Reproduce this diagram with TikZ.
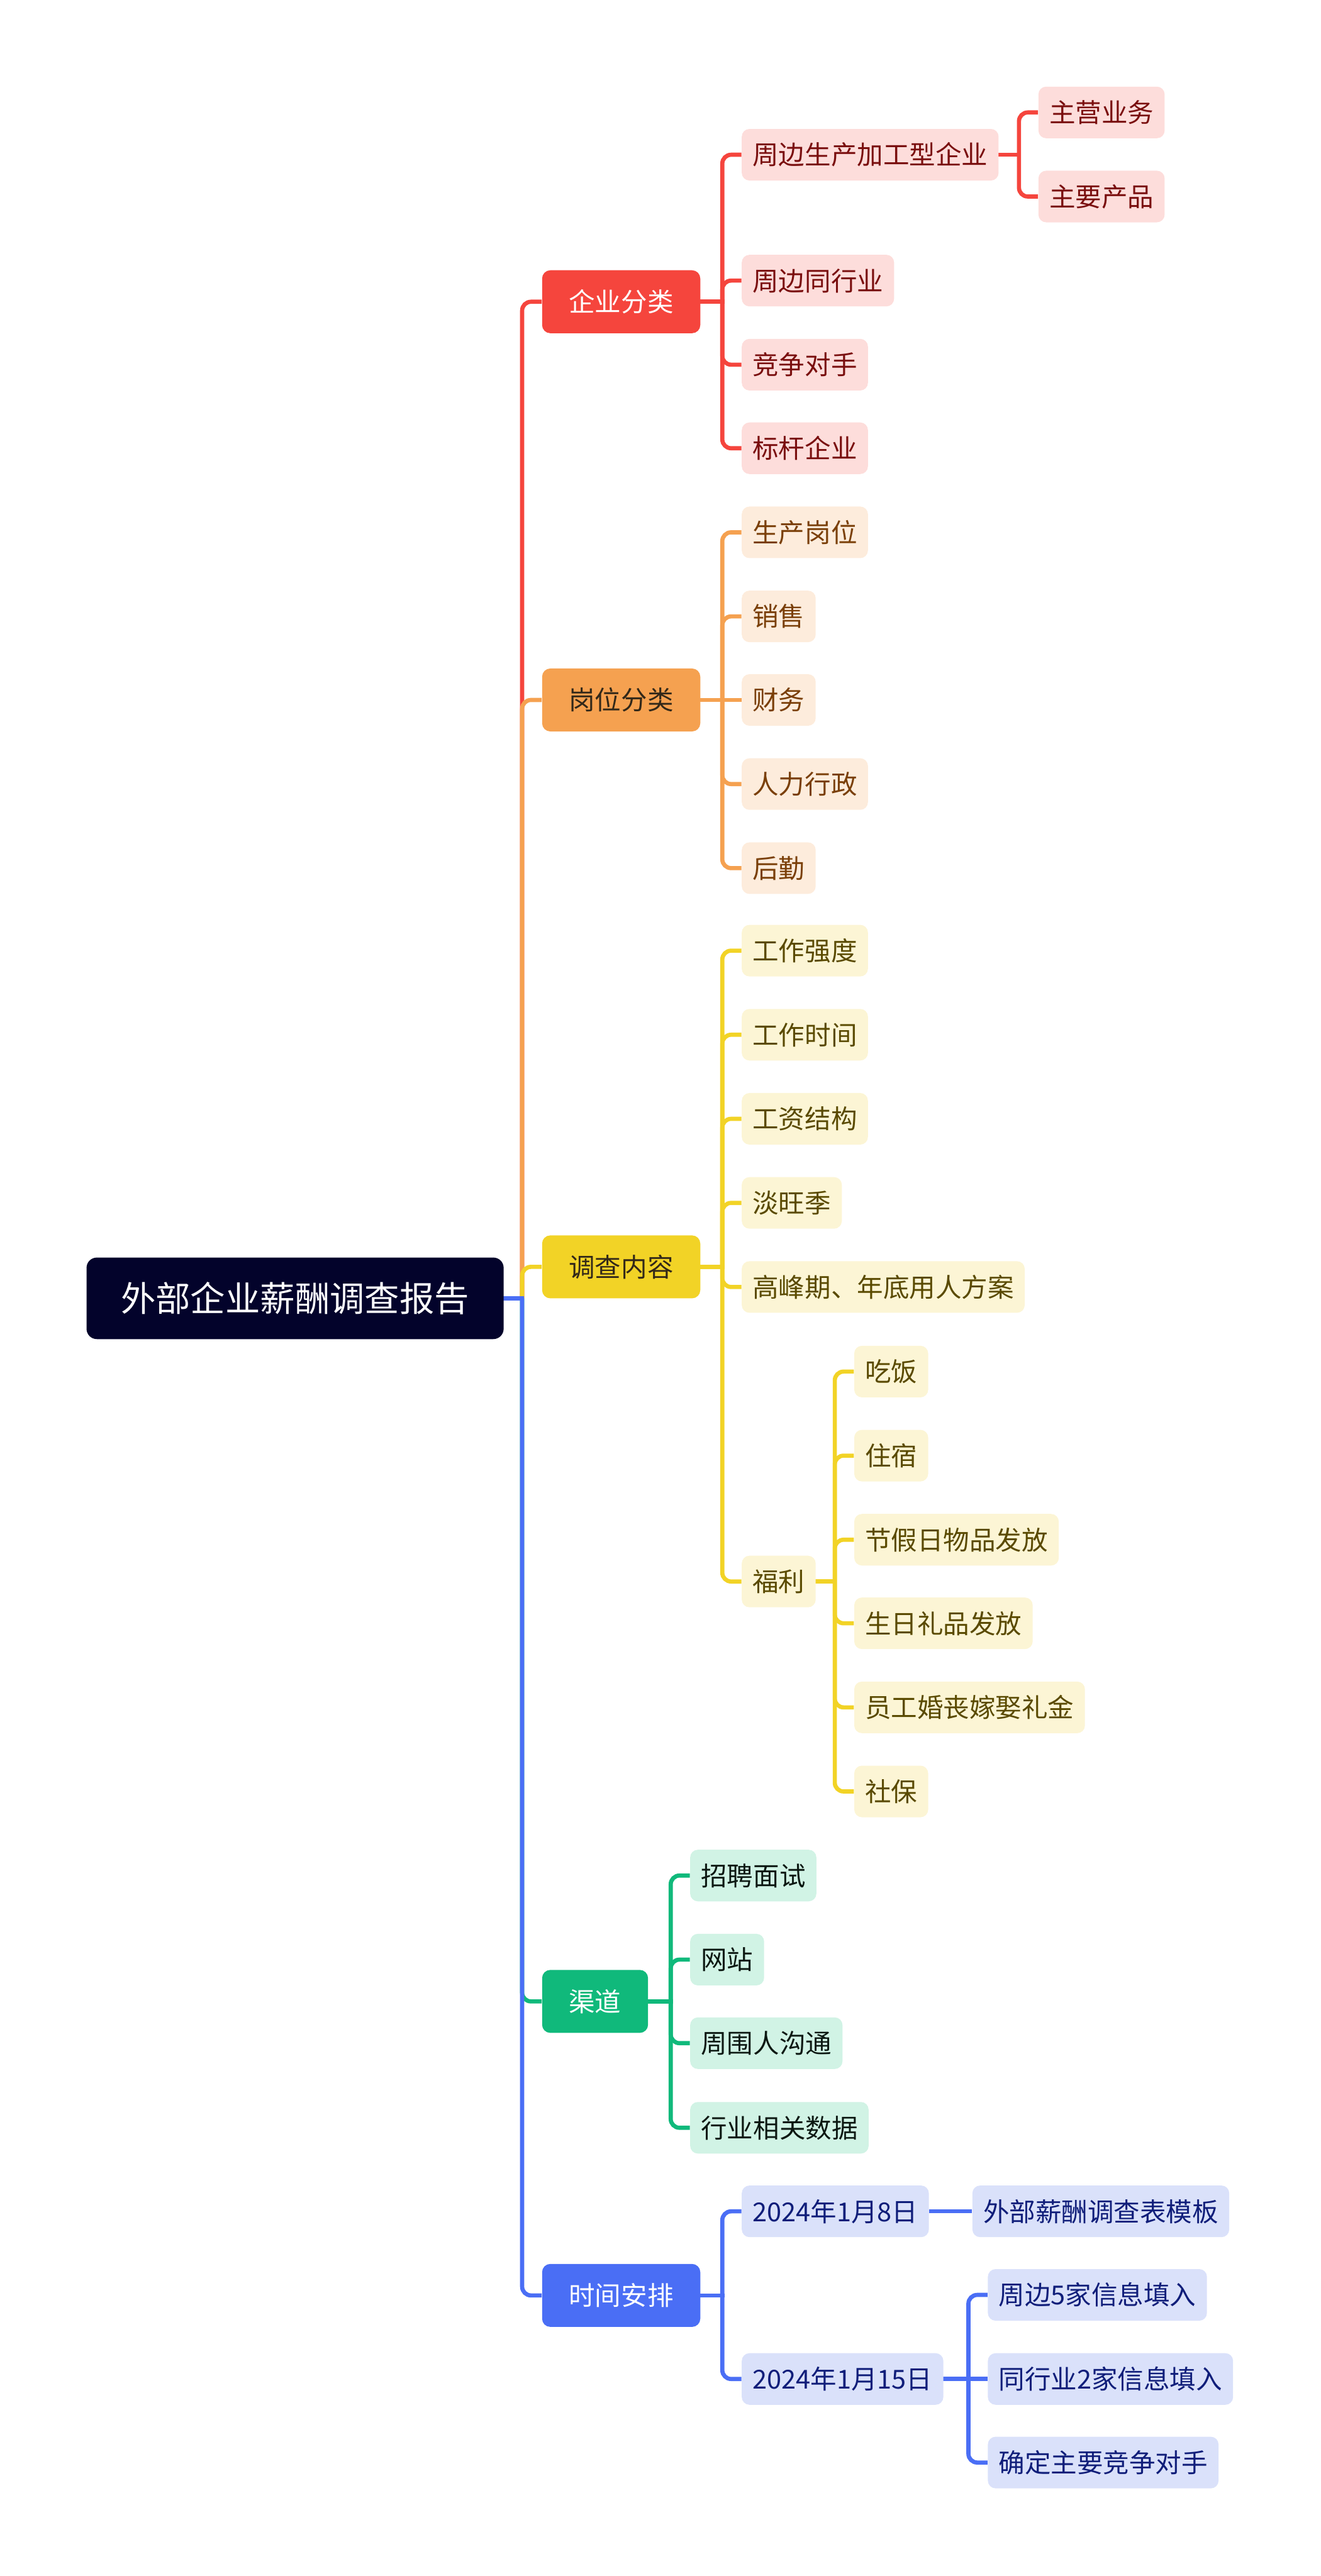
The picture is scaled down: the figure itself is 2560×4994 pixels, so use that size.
\documentclass[tikz,border=0pt]{standalone}
\usepackage{fontspec}
\newfontfamily\cjk{Noto Sans CJK SC}
\usepackage{xcolor}
\usepackage{tikz}
\usetikzlibrary{backgrounds}
\definecolor{mroot}{RGB}{3,3,43}
\definecolor{mred}{RGB}{245,69,61}
\definecolor{morange}{RGB}{245,161,80}
\definecolor{myellow}{RGB}{242,211,38}
\definecolor{mgreen}{RGB}{16,185,123}
\definecolor{mblue}{RGB}{74,110,245}
\definecolor{lred}{RGB}{253,221,219}
\definecolor{lorange}{RGB}{253,236,220}
\definecolor{lyellow}{RGB}{252,245,213}
\definecolor{lgreen}{RGB}{209,243,229}
\definecolor{lblue}{RGB}{218,225,250}
\definecolor{tred}{RGB}{122,14,14}
\definecolor{torange}{RGB}{122,63,8}
\definecolor{tyellow}{RGB}{90,74,0}
\definecolor{tgreen}{RGB}{12,24,18}
\definecolor{tblue}{RGB}{16,30,122}
\definecolor{tdark}{RGB}{50,40,25}
\tikzset{
  rootbox/.style={rectangle, rounded corners=0.2cm, fill=mroot, text=white, anchor=west,
                  minimum width=8.08cm, minimum height=1.58cm, inner sep=0pt,
                  font=\cjk\fontsize{19.2}{23}\selectfont, text height=16.9pt, text depth=2.3pt},
  mainbox/.style={rectangle, rounded corners=0.16cm, anchor=west, minimum height=1.22cm,
                  inner xsep=0.52cm, inner ysep=0pt,
                  font=\cjk\fontsize{14.4}{17}\selectfont, text height=12.7pt, text depth=1.7pt},
  subbox/.style={mainbox, rounded corners=0.15cm, minimum height=1cm, inner xsep=0.21cm},
  redsub/.style={subbox, fill=lred, text=tred},
  orsub/.style={subbox, fill=lorange, text=torange},
  yesub/.style={subbox, fill=lyellow, text=tyellow},
  grsub/.style={subbox, fill=lgreen, text=tgreen},
  blsub/.style={subbox, fill=lblue, text=tblue},
  ln/.style={line width=2.3pt},
  stub/.style={ln, line cap=rect},
  br/.style={ln, rounded corners=0.17cm}
}
\begin{document}
\begin{tikzpicture}[x=0.01cm, y=-0.01cm]
\useasboundingbox (0,0) rectangle (2560,4994);
\node[rootbox] (root) at (167,2517) {外部企业薪酬调查报告};

\node[mainbox, fill=mred, text=white] (k1) at (1050,585) {企业分类};
\node[mainbox, fill=morange, text=tdark] (k2) at (1050,1357) {岗位分类};
\node[mainbox, fill=myellow, text=tdark] (k3) at (1050,2456) {调查内容};
\node[mainbox, fill=mgreen, text=white] (k4) at (1050,3880) {渠道};
\node[mainbox, fill=mblue, text=white] (k5) at (1050,4450) {时间安排};

\node[redsub] (a1) at (1437,300) {周边生产加工型企业};
\node[redsub] (a2) at (1437,544) {周边同行业};
\node[redsub] (a3) at (1437,707) {竞争对手};
\node[redsub] (a4) at (1437,869) {标杆企业};
\node[redsub] (a11) at (2012,218) {主营业务};
\node[redsub] (a12) at (2012,381) {主要产品};

\node[orsub] (b1) at (1437,1032) {生产岗位};
\node[orsub] (b2) at (1437,1195) {销售};
\node[orsub] (b3) at (1437,1357) {财务};
\node[orsub] (b4) at (1437,1520) {人力行政};
\node[orsub] (b5) at (1437,1683) {后勤};

\node[yesub] (c1) at (1437,1843) {工作强度};
\node[yesub] (c2) at (1437,2006) {工作时间};
\node[yesub] (c3) at (1437,2169) {工资结构};
\node[yesub] (c4) at (1437,2332) {淡旺季};
\node[yesub] (c5) at (1437,2495) {高峰期、年底用人方案};
\node[yesub] (c6) at (1437,3066) {福利};
\node[yesub] (c61) at (1655,2659) {吃饭};
\node[yesub] (c62) at (1655,2822) {住宿};
\node[yesub] (c63) at (1655,2985) {节假日物品发放};
\node[yesub] (c64) at (1655,3147) {生日礼品发放};
\node[yesub] (c65) at (1655,3310) {员工婚丧嫁娶礼金};
\node[yesub] (c66) at (1655,3473) {社保};

\node[grsub] (d1) at (1337,3636) {招聘面试};
\node[grsub] (d2) at (1337,3799) {网站};
\node[grsub] (d3) at (1337,3961) {周围人沟通};
\node[grsub] (d4) at (1337,4125) {行业相关数据};

\node[blsub] (e1) at (1437,4287) {2024年1月8日};
\node[blsub] (e2) at (1437,4612) {2024年1月15日};
\node[blsub] (e11) at (1884,4287) {外部薪酬调查表模板};
\node[blsub] (e21) at (1914,4449) {周边5家信息填入};
\node[blsub] (e22) at (1914,4612) {同行业2家信息填入};
\node[blsub] (e23) at (1914,4774) {确定主要竞争对手};

\coordinate (rb) at (1012,2517);
\coordinate (kb1) at (1400,585);
\coordinate (kb2) at (1400,1357);
\coordinate (kb3) at (1400,2456);
\coordinate (kb4) at (1300,3880);
\coordinate (kb5) at (1400,4450);
\coordinate (ab1) at (1975,300);
\coordinate (cb6) at (1618,3066);
\coordinate (eb2) at (1877,4612);

\begin{scope}[on background layer]
\draw[br, mred] (rb) |- (k1.west);
\draw[br, morange] (rb) |- (k2.west);
\draw[br, myellow] (rb) |- (k3.west);
\draw[br, mgreen] (rb) |- (k4.west);
\draw[br, mblue] (rb) |- (k5.west);
\draw[stub, mblue] (root.east) -- (rb);

\draw[stub, mred] (k1.east) -- (kb1);
\draw[br, mred] (kb1) |- (a1.west);
\draw[br, mred] (kb1) |- (a2.west);
\draw[br, mred] (kb1) |- (a3.west);
\draw[br, mred] (kb1) |- (a4.west);
\draw[stub, mred] (a1.east) -- (ab1);
\draw[br, mred] (ab1) |- (a11.west);
\draw[br, mred] (ab1) |- (a12.west);

\draw[stub, morange] (k2.east) -- (kb2);
\draw[br, morange] (kb2) |- (b1.west);
\draw[br, morange] (kb2) |- (b2.west);
\draw[ln, morange] (kb2) -- (b3.west);
\draw[br, morange] (kb2) |- (b4.west);
\draw[br, morange] (kb2) |- (b5.west);

\draw[stub, myellow] (k3.east) -- (kb3);
\draw[br, myellow] (kb3) |- (c1.west);
\draw[br, myellow] (kb3) |- (c2.west);
\draw[br, myellow] (kb3) |- (c3.west);
\draw[br, myellow] (kb3) |- (c4.west);
\draw[br, myellow] (kb3) |- (c5.west);
\draw[br, myellow] (kb3) |- (c6.west);
\draw[stub, myellow] (c6.east) -- (cb6);
\draw[br, myellow] (cb6) |- (c61.west);
\draw[br, myellow] (cb6) |- (c62.west);
\draw[br, myellow] (cb6) |- (c63.west);
\draw[br, myellow] (cb6) |- (c64.west);
\draw[br, myellow] (cb6) |- (c65.west);
\draw[br, myellow] (cb6) |- (c66.west);

\draw[stub, mgreen] (k4.east) -- (kb4);
\draw[br, mgreen] (kb4) |- (d1.west);
\draw[br, mgreen] (kb4) |- (d2.west);
\draw[br, mgreen] (kb4) |- (d3.west);
\draw[br, mgreen] (kb4) |- (d4.west);

\draw[stub, mblue] (k5.east) -- (kb5);
\draw[br, mblue] (kb5) |- (e1.west);
\draw[br, mblue] (kb5) |- (e2.west);
\draw[ln, mblue] (e1.east) -- (e11.west);
\draw[stub, mblue] (e2.east) -- (eb2);
\draw[br, mblue] (eb2) |- (e21.west);
\draw[ln, mblue] (eb2) -- (e22.west);
\draw[br, mblue] (eb2) |- (e23.west);
\end{scope}
\end{tikzpicture}
\end{document}
